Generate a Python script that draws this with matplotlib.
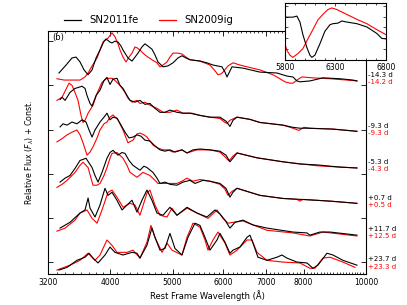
import matplotlib
matplotlib.use("Agg")
import matplotlib.pyplot as plt
from matplotlib.ticker import MultipleLocator, NullFormatter, FixedLocator

# SN2011fe (black) and SN2009ig (red) spectra
# -14.3 d / -14.2 d
fe_w1 = [3328, 3414, 3487, 3538, 3589, 3641, 3694, 3747, 3801, 3855, 3911, 3939, 3996, 4025, 4068, 4112, 4157, 4187,
         4262, 4324, 4371, 4418, 4481, 4529, 4578, 4644, 4695, 4746, 4832, 4919, 5008, 5098, 5172, 5247, 5322, 5517,
         5657, 5780, 5969, 6034, 6078, 6121, 6188, 6436, 6840, 7269, 7535, 7699, 7810, 7894, 8182, 8573, 9112, 9546, 9685]
fe_f1 = [0.18, 0.36, 0.52, 0.54, 0.43, 0.25, 0.14, 0.25, 0.52, 0.70, 0.90, 0.95, 0.88, 0.86, 0.90, 0.88, 0.79, 0.70,
         0.52, 0.45, 0.54, 0.63, 0.77, 0.84, 0.79, 0.72, 0.59, 0.43, 0.32, 0.34, 0.41, 0.52, 0.57, 0.52, 0.48, 0.45,
         0.41, 0.36, 0.32, 0.20, 0.09, 0.18, 0.32, 0.29, 0.20, 0.18, 0.11, 0.09, 0.0, -0.02, 0.0, 0.07, 0.05, 0.02, 0.0]
ig_w1 = [3304, 3390, 3462, 3589, 3654, 3694, 3747, 3815, 3855, 3897, 3939, 3968, 4025, 4068, 4112, 4142, 4187, 4232,
         4278, 4324, 4371, 4402, 4449, 4513, 4578, 4644, 4729, 4780, 4832, 4902, 4954, 5008, 5098, 5172, 5247, 5322,
         5517, 5718, 5822, 5885, 5948, 5991, 6100, 6210, 6367, 6529, 6840, 7166, 7348, 7481, 7616, 7699, 7866, 7951,
         8271, 8791, 9343, 9685]
ig_f1 = [0.05, 0.02, 0.02, 0.02, 0.09, 0.18, 0.34, 0.52, 0.70, 0.88, 0.93, 0.97, 1.09, 1.00, 0.84, 0.70, 0.54, 0.43,
         0.54, 0.63, 0.77, 0.75, 0.70, 0.61, 0.54, 0.48, 0.41, 0.32, 0.36, 0.43, 0.54, 0.63, 0.63, 0.61, 0.54, 0.48,
         0.45, 0.36, 0.23, 0.14, 0.16, 0.20, 0.34, 0.41, 0.36, 0.32, 0.25, 0.14, 0.05, -0.02, -0.05, -0.05, 0.05, 0.09,
         0.07, 0.05, 0.02, 0.0]

# -9.3 d / -9.3 d
fe_w2 = [3341, 3365, 3402, 3462, 3525, 3615, 3654, 3680, 3720, 3747, 3801, 3855, 3911, 3953, 3996, 4039, 4097, 4142,
         4187, 4247, 4293, 4371, 4449, 4529, 4611, 4695, 4780, 4867, 4954, 5080, 5191, 5322, 5517, 5718, 5926, 6056,
         6143, 6210, 6300, 6599, 6840, 7427, 7699, 7894, 8096, 8886, 9685]
fe_f2 = [0.72, 0.77, 0.70, 0.88, 0.97, 1.02, 0.97, 0.81, 0.63, 0.57, 0.81, 0.93, 1.15, 1.22, 1.06, 1.18, 1.20, 1.04,
         0.97, 0.81, 0.70, 0.66, 0.70, 0.61, 0.63, 0.52, 0.43, 0.43, 0.48, 0.43, 0.41, 0.41, 0.36, 0.32, 0.32, 0.23,
         0.11, 0.25, 0.32, 0.27, 0.20, 0.14, 0.09, 0.07, 0.07, 0.05, 0.0]
ig_w2 = [3304, 3365, 3426, 3451, 3487, 3525, 3563, 3602, 3628, 3654, 3694, 3760, 3815, 3883, 3953, 4025, 4068, 4142,
         4217, 4262, 4324, 4402, 4449, 4529, 4611, 4729, 4832, 4954, 5080, 5191, 5360, 5517, 5718, 5926, 6034, 6078,
         6143, 6300, 6599, 6840, 7427, 7699, 7866, 8010, 8182, 8886, 9685]
ig_f2 = [0.70, 0.77, 1.00, 1.09, 1.04, 0.88, 0.70, 0.36, 0.20, 0.25, 0.41, 0.59, 0.86, 1.11, 1.20, 1.20, 1.15, 1.04,
         0.88, 0.75, 0.66, 0.70, 0.63, 0.66, 0.59, 0.52, 0.43, 0.43, 0.48, 0.41, 0.41, 0.36, 0.32, 0.29, 0.20, 0.18,
         0.25, 0.32, 0.27, 0.20, 0.14, 0.07, 0.02, 0.09, 0.07, 0.05, 0.0]

# -5.3 d / -4.3 d
fe_w3 = [3341, 3377, 3426, 3487, 3550, 3615, 3667, 3707, 3747, 3787, 3855, 3911, 3953, 3996, 4039, 4097, 4157, 4217,
         4278, 4339, 4402, 4465, 4529, 4611, 4695, 4780, 4867, 4954, 5044, 5172, 5266, 5380, 5517, 5718, 5926, 6056,
         6143, 6232, 6300, 6768, 7427, 7894, 8390, 9112, 9685]
fe_f3 = [0.93, 1.00, 0.97, 1.04, 1.00, 1.09, 1.04, 0.86, 0.70, 0.86, 1.04, 1.15, 1.24, 1.09, 1.15, 1.13, 0.97, 0.81,
         0.68, 0.70, 0.75, 0.72, 0.63, 0.61, 0.50, 0.41, 0.38, 0.41, 0.36, 0.41, 0.34, 0.41, 0.43, 0.41, 0.38, 0.29,
         0.14, 0.25, 0.34, 0.23, 0.14, 0.09, 0.07, 0.02, 0.0]
ig_w3 = [3304, 3377, 3426, 3487, 3550, 3589, 3628, 3680, 3720, 3760, 3815, 3855, 3911, 3953, 3996, 4039, 4112, 4187,
         4262, 4339, 4402, 4449, 4513, 4562, 4661, 4746, 4832, 4919, 5008, 5172, 5266, 5458, 5718, 5926, 6056, 6121,
         6210, 6300, 6768, 7427, 8390, 9112, 9685]
ig_f3 = [0.59, 0.68, 0.75, 0.81, 0.86, 0.75, 0.57, 0.29, 0.36, 0.48, 0.68, 0.86, 1.00, 1.04, 1.15, 1.20, 1.09, 0.86,
         0.57, 0.63, 0.77, 0.79, 0.75, 0.70, 0.52, 0.45, 0.41, 0.41, 0.36, 0.41, 0.34, 0.41, 0.41, 0.36, 0.23, 0.16,
         0.27, 0.34, 0.23, 0.14, 0.05, 0.02, 0.0]

# +0.7 d / +0.5 d
fe_w4 = [3341, 3402, 3462, 3525, 3589, 3667, 3747, 3787, 3828, 3883, 3953, 3996, 4039, 4112, 4172, 4217, 4278, 4339,
         4449, 4513, 4562, 4661, 4729, 4780, 4867, 4954, 5080, 5191, 5322, 5419, 5577, 5718, 5926, 6056, 6143, 6210,
         6300, 6840, 7427, 7894, 8791, 9685]
fe_f4 = [0.48, 0.57, 0.63, 0.79, 0.97, 1.02, 0.81, 0.63, 0.48, 0.70, 1.02, 1.15, 1.20, 1.09, 1.15, 1.13, 0.97, 0.86,
         0.75, 0.84, 0.81, 0.70, 0.57, 0.45, 0.48, 0.43, 0.41, 0.48, 0.52, 0.45, 0.52, 0.50, 0.45, 0.34, 0.14, 0.25,
         0.34, 0.18, 0.11, 0.09, 0.05, 0.0]
ig_w4 = [3304, 3365, 3426, 3525, 3589, 3628, 3694, 3733, 3760, 3815, 3855, 3911, 3953, 3996, 4025, 4097, 4187, 4247,
         4293, 4402, 4497, 4611, 4695, 4746, 4902, 5080, 5172, 5266, 5380, 5517, 5718, 5926, 6034, 6100, 6188, 6300,
         6840, 7427, 7810, 7894, 7980, 8791, 9685]
ig_f4 = [0.36, 0.43, 0.52, 0.70, 0.86, 0.93, 0.81, 0.57, 0.41, 0.41, 0.45, 0.63, 0.81, 1.02, 1.13, 1.15, 1.02, 0.86,
         0.70, 0.59, 0.70, 0.63, 0.52, 0.45, 0.45, 0.45, 0.50, 0.57, 0.50, 0.54, 0.50, 0.43, 0.32, 0.18, 0.27, 0.34,
         0.18, 0.11, 0.09, 0.05, 0.09, 0.05, 0.0]

# +11.7 d / +12.5 d
fe_w5 = [3341, 3462, 3589, 3654, 3694, 3720, 3787, 3855, 3925, 3968, 4025, 4097, 4172, 4247, 4324, 4402, 4481, 4562,
         4644, 4729, 4832, 4954, 5080, 5266, 5458, 5657, 5822, 5926, 6034, 6143, 6255, 6436, 6671, 7013, 7699, 8096,
         8182, 8481, 8791, 9685]
fe_f5 = [0.16, 0.29, 0.50, 0.57, 0.84, 0.61, 0.41, 0.68, 1.06, 0.90, 0.97, 0.79, 0.57, 0.68, 0.79, 0.52, 0.79, 1.02,
         0.79, 0.50, 0.45, 0.63, 0.45, 0.63, 0.50, 0.41, 0.57, 0.48, 0.34, 0.16, 0.29, 0.34, 0.23, 0.16, 0.07, 0.05,
         0.0, 0.07, 0.07, 0.0]
ig_w5 = [3304, 3402, 3525, 3589, 3680, 3747, 3815, 3883, 3968, 4025, 4097, 4187, 4293, 4371, 4449, 4562, 4611, 4695,
         4780, 4902, 4990, 5080, 5266, 5458, 5678, 5864, 5991, 6100, 6210, 6436, 7013, 7699, 8182, 8573, 9685]
ig_f5 = [0.09, 0.16, 0.34, 0.50, 0.57, 0.38, 0.27, 0.57, 0.97, 1.02, 0.86, 0.63, 0.72, 0.68, 0.45, 0.95, 1.02, 0.68,
         0.45, 0.41, 0.61, 0.45, 0.61, 0.50, 0.38, 0.57, 0.38, 0.27, 0.29, 0.32, 0.11, 0.05, -0.02, 0.07, -0.02]

# +23.7 d / +23.3 d
fe_w6 = [3328, 3426, 3550, 3654, 3707, 3760, 3828, 3925, 3996, 4068, 4187, 4324, 4402, 4449, 4562, 4644, 4695, 4780,
         4867, 4954, 5044, 5172, 5285, 5419, 5517, 5617, 5718, 5864, 5926, 6034, 6143, 6210, 6367, 6529, 6599, 6671,
         6792, 7013, 7269, 7401, 7535, 7810, 8096, 8271, 8420, 8697, 8886, 9211, 9685]
fe_f6 = [-0.11, -0.05, 0.11, 0.18, 0.27, 0.16, 0.05, 0.23, 0.41, 0.29, 0.23, 0.29, 0.27, 0.16, 0.45, 0.84, 0.63, 0.34,
         0.38, 0.72, 0.38, 0.23, 0.63, 0.95, 0.90, 0.63, 0.34, 0.57, 0.72, 0.52, 0.27, 0.34, 0.41, 0.63, 0.68, 0.50,
         0.18, 0.11, 0.18, 0.23, 0.16, 0.07, 0.05, -0.07, 0.0, 0.27, 0.23, 0.11, 0.0]
ig_w6 = [3304, 3462, 3589, 3694, 3787, 3855, 3953, 4025, 4097, 4247, 4339, 4449, 4562, 4628, 4695, 4815, 4902, 4990,
         5172, 5266, 5380, 5517, 5617, 5678, 5780, 5885, 6034, 6143, 6300, 6529, 6647, 6768, 7013, 7427, 7894, 8182,
         8330, 8573, 8791, 9211, 9616]
ig_f6 = [-0.11, 0.0, 0.11, 0.27, 0.11, 0.23, 0.57, 0.45, 0.29, 0.29, 0.34, 0.16, 0.52, 0.90, 0.63, 0.29, 0.50, 0.34,
         0.23, 0.63, 0.95, 0.86, 0.57, 0.34, 0.57, 0.75, 0.50, 0.23, 0.34, 0.57, 0.57, 0.29, 0.11, 0.07, 0.05, -0.07,
         -0.07, 0.16, 0.18, 0.07, -0.05]

fe_phases = ['-14.3 d', '-9.3 d', '-5.3 d', '+0.7 d', '+11.7 d', '+23.7 d']
ig_phases = ['-14.2 d', '-9.3 d', '-4.3 d', '+0.5 d', '+12.5 d', '+23.3 d']
offsets = [4.10, 2.96, 2.13, 1.33, 0.61, -0.07]

fe_waves = [fe_w1, fe_w2, fe_w3, fe_w4, fe_w5, fe_w6]
fe_fluxes = [fe_f1, fe_f2, fe_f3, fe_f4, fe_f5, fe_f6]
ig_waves = [ig_w1, ig_w2, ig_w3, ig_w4, ig_w5, ig_w6]
ig_fluxes = [ig_f1, ig_f2, ig_f3, ig_f4, ig_f5, ig_f6]

# inset: Si II 6355 region of the earliest pair
ins_fe_w = [5800, 5879, 5919, 5949, 5978, 6018, 6048, 6067, 6097, 6147, 6196, 6246, 6275, 6325, 6364, 6414, 6513,
            6612, 6711, 6760, 6800]
ins_fe_f = [0.79, 0.79, 0.81, 0.70, 0.47, 0.23, 0.09, 0.05, 0.09, 0.30, 0.53, 0.65, 0.67, 0.68, 0.72, 0.70, 0.67,
            0.61, 0.49, 0.40, 0.39]
ins_ig_w = [5800, 5820, 5850, 5879, 5929, 5978, 6028, 6077, 6127, 6176, 6226, 6265, 6315, 6414, 6513, 6612, 6711, 6800]
ins_ig_f = [0.30, 0.18, 0.09, 0.05, 0.12, 0.21, 0.39, 0.56, 0.74, 0.84, 0.93, 0.96, 0.93, 0.84, 0.75, 0.67, 0.56, 0.47]

xticks = [3200, 4000, 5000, 6000, 7000, 8000, 10000]
ins_xticks = [5800, 6300, 6800]

fig = plt.figure(figsize=(4.07, 3.05), dpi=100)
ax = fig.add_axes([0.118, 0.1016, 0.781, 0.7967])

for i in range(len(offsets)):
    off = offsets[i]
    ax.plot(ig_waves[i], [f + off for f in ig_fluxes[i]], color='r', lw=0.8)
    ax.plot(fe_waves[i], [f + off for f in fe_fluxes[i]], color='k', lw=0.8)
    ax.text(1.006, off + 0.13, fe_phases[i], color='k', fontsize=5, va='center',
            transform=ax.get_yaxis_transform())
    ax.text(1.006, off - 0.03, ig_phases[i], color='r', fontsize=5, va='center',
            transform=ax.get_yaxis_transform())

ax.set_xscale('log')
ax.set_xlim(3200, 10000)
ax.set_ylim(-0.27, 5.23)
ax.xaxis.set_major_locator(FixedLocator(xticks))
ax.set_xticklabels([str(t) for t in xticks])
ax.xaxis.set_minor_locator(MultipleLocator(100))
ax.xaxis.set_minor_formatter(NullFormatter())
ax.set_yticks([0, 1, 2, 3, 4, 5])
ax.set_yticklabels([])
ax.tick_params(which='both', direction='in', top=True, right=True, labelsize=5.5, pad=3)
ax.tick_params(which='major', length=3.5, width=0.6)
ax.tick_params(which='minor', length=1.6, width=0.5)
for s in ax.spines.values():
    s.set_linewidth(0.8)
ax.set_xlabel('Rest Frame Wavelength (Å)', fontsize=6, labelpad=2)
ax.set_ylabel(r'Relative Flux ($F_\lambda$) + Const.', fontsize=5.7, labelpad=6)
ax.text(0.012, 0.99, '(b)', fontsize=6, va='top', ha='left', transform=ax.transAxes)

h_fe, = ax.plot([], [], color='k', lw=0.9, label='SN2011fe')
h_ig, = ax.plot([], [], color='r', lw=0.9, label='SN2009ig')
fig.legend(handles=[h_fe, h_ig], loc='center', bbox_to_anchor=(0.366, 0.934), ncol=2, frameon=False,
           fontsize=7.3, handlelength=1.6, handletextpad=0.9, columnspacing=2.0)

ins = fig.add_axes([0.700, 0.803, 0.248, 0.187])
ins.plot(ins_ig_w, ins_ig_f, color='r', lw=0.8)
ins.plot(ins_fe_w, ins_fe_f, color='k', lw=0.8)
ins.set_xlim(5800, 6800)
ins.set_ylim(0.0, 1.05)
ins.set_xticks(ins_xticks)
ins.set_xticklabels([str(t) for t in ins_xticks])
ins.xaxis.set_minor_locator(MultipleLocator(100))
ins.yaxis.set_major_locator(MultipleLocator(0.2))
ins.set_yticklabels([])
ins.tick_params(which='both', direction='in', top=True, right=True, labelsize=5.5, pad=2)
ins.tick_params(which='major', length=2.5, width=0.5)
ins.tick_params(which='minor', length=1.5, width=0.5)
for s in ins.spines.values():
    s.set_linewidth(0.8)

fig.savefig('out.png', dpi=100)
